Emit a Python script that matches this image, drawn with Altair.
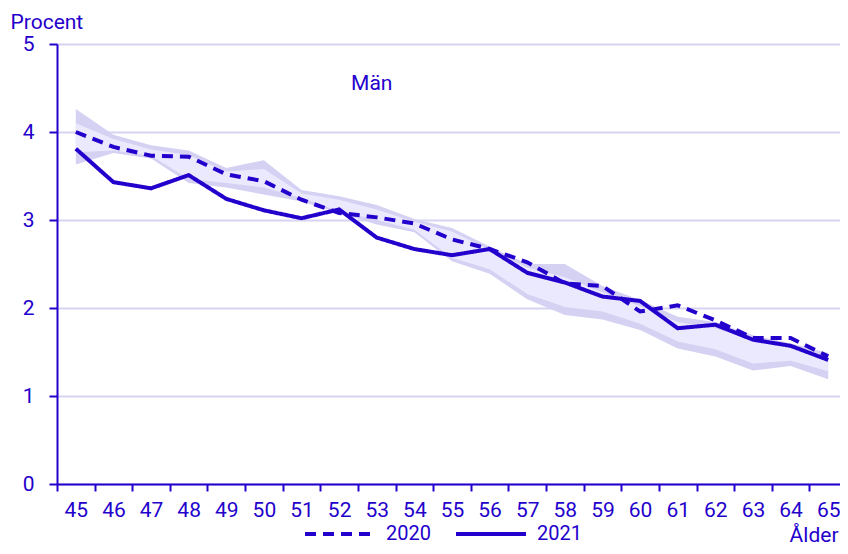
import altair as alt
import pandas as pd

ages = list(range(45, 66))
v2020 = [4.00, 3.83, 3.73, 3.72, 3.52, 3.44, 3.23, 3.08, 3.03, 2.96, 2.78,
         2.67, 2.52, 2.28, 2.25, 1.96, 2.03, 1.86, 1.66, 1.66, 1.45]
v2021 = [3.81, 3.43, 3.36, 3.51, 3.24, 3.11, 3.02, 3.12, 2.80, 2.67, 2.60,
         2.67, 2.40, 2.29, 2.13, 2.08, 1.77, 1.81, 1.64, 1.57, 1.41]
band_max = [4.26, 3.97, 3.85, 3.79, 3.59, 3.68, 3.34, 3.27, 3.17, 3.01, 2.91,
            2.70, 2.50, 2.50, 2.25, 2.09, 1.90, 1.84, 1.69, 1.60, 1.49]
band_hi = [4.10, 3.92, 3.80, 3.74, 3.55, 3.58, 3.30, 3.23, 3.12, 2.98, 2.87,
           2.66, 2.46, 2.35, 2.18, 2.02, 1.84, 1.77, 1.63, 1.55, 1.45]
band_lo = [3.77, 3.79, 3.73, 3.47, 3.42, 3.37, 3.25, 3.10, 3.00, 2.89, 2.57,
           2.44, 2.16, 2.01, 1.96, 1.82, 1.62, 1.53, 1.37, 1.40, 1.28]
band_min = [3.63, 3.76, 3.70, 3.42, 3.37, 3.29, 3.21, 3.08, 2.95, 2.86, 2.53,
            2.39, 2.10, 1.92, 1.87, 1.75, 1.54, 1.45, 1.29, 1.34, 1.19]
series = ["2020", "2021"]
annotation = ["Män"]

C = "#2400cc"
FONT = "Roboto"
FS = 21

band_df = pd.DataFrame({"age": ages, "max": band_max, "hi": band_hi,
                        "lo": band_lo, "min": band_min})
line_df = pd.DataFrame({"age": ages * 2, "value": v2020 + v2021,
                        "series": [series[0]] * len(ages) + [series[1]] * len(ages)})
label_df = pd.DataFrame({"age": [53], "value": [4.54], "text": annotation})

xscale = alt.Scale(type="band", paddingInner=0, paddingOuter=0, range=[0, 790])
xaxis = alt.Axis(title="Ålder", labelAngle=0, tickBand="extent", tickSize=7,
                 labelPadding=8, grid=False, titleAnchor="end", titleAlign="right",
                 titleX=781, titleY=57, titleBaseline="alphabetic")
yscale = alt.Scale(domain=[0, 5], nice=False, zero=True)
yaxis = alt.Axis(values=[0, 1, 2, 3, 4, 5], format="d", title="Procent", titleAngle=0,
                 titleAlign="left", titleX=-47, titleY=-16, titleBaseline="alphabetic",
                 tickSize=8, labelPadding=15, grid=True)

outer = alt.Chart(band_df).mark_area(color="#d4d1f3", opacity=1).encode(
    x=alt.X("age:O", scale=xscale, axis=xaxis),
    y=alt.Y("min:Q", scale=yscale, axis=yaxis),
    y2="max:Q",
)
inner = alt.Chart(band_df).mark_area(color="#ebe9fd", opacity=1).encode(
    x=alt.X("age:O", scale=xscale),
    y=alt.Y("lo:Q", scale=yscale),
    y2="hi:Q",
)
lines = alt.Chart(line_df).mark_line(color=C, strokeWidth=4).encode(
    x=alt.X("age:O", scale=xscale),
    y=alt.Y("value:Q", scale=yscale),
    strokeDash=alt.StrokeDash(
        "series:N",
        scale=alt.Scale(domain=series, range=[[11, 7], [1, 0]]),
        legend=alt.Legend(orient="none", legendX=246, legendY=453,
                          direction="horizontal", title=None,
                          symbolType="stroke", symbolSize=4900,
                          symbolStrokeWidth=4, symbolStrokeColor=C,
                          labelFontSize=20, labelColor=C, labelFont=FONT,
                          columnPadding=17, labelOffset=9, padding=0),
    ),
)
text = alt.Chart(label_df).mark_text(color=C, font=FONT, fontSize=FS, dx=-5,
                                     baseline="middle").encode(
    x=alt.X("age:O", scale=xscale),
    y=alt.Y("value:Q", scale=yscale),
    text="text:N",
)

chart = alt.layer(outer, inner, lines, text).properties(
    width=783, height=440,
    autosize=alt.AutoSizeParams(type="none"),
    padding={"left": 49, "top": 36, "right": 0, "bottom": 62},
).configure_view(stroke=None).configure_axis(
    domainColor=C, domainWidth=2, tickColor=C, tickWidth=2,
    labelColor=C, labelFont=FONT, labelFontSize=FS,
    titleColor=C, titleFont=FONT, titleFontSize=FS, titleFontWeight="normal",
    gridColor="#d6d4f2", gridWidth=2,
)

chart.save("out.html", embed_options={"renderer": "svg", "actions": False})
